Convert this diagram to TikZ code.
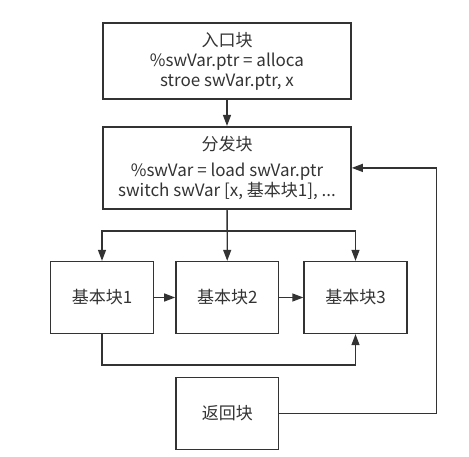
\documentclass[tikz,border=0pt]{standalone}
\usepackage{fontspec}
\setmainfont{Noto Sans CJK SC}
\usepackage{tikz}
\usetikzlibrary{positioning}
\usetikzlibrary{arrows.meta}
\definecolor{linegray}{HTML}{333333}
\definecolor{textgray}{HTML}{333333}

\begin{document}
\begin{tikzpicture}[x=1pt, y=1pt, >={Triangle[length=11pt,width=8pt]},
  block/.style = {draw=linegray, line width=1.6pt, text=textgray, align=center,
                  inner sep=0pt, font=\fontsize{17}{20}\selectfont},
  bigblock/.style = {block, minimum width=248pt},
  smallblock/.style = {block, minimum width=102.7pt, minimum height=71.7pt},
  link/.style = {draw=linegray, line width=1.3pt}]

% fix the page to the reference size
\useasboundingbox (0,0) rectangle (469,456);

% Blocks
\node[bigblock, minimum height=76pt] (entry) at (227,395)
  {入口块\\ \%swVar.ptr = alloca\\ stroe swVar.ptr, x};
\node[bigblock, minimum height=82.3pt] (dispatch) at (227,288.1)
  {分发块\\[6.7pt] \%swVar = load swVar.ptr\\ switch swVar [x, 基本块1], ...};
\node[smallblock] (blockA) at (102,158.5)   {基本块1};
\node[smallblock] (blockB) at (227.3,158.5) {基本块2};
\node[smallblock] (blockC) at (355.5,158.5) {基本块3};
\node[smallblock] (ret) at (227.3,42.5)     {返回块};

% split point and loop corner
\coordinate (split) at (227.3,225);
\coordinate (loop) at (436.7,42.5);

% Connectors
\draw[link,->] (entry) -- (dispatch);
\draw[link,->] (dispatch) -- (blockB);
\draw[link,->] (split) -| (blockA);
\draw[link,->] (split) -| (blockC);
\draw[link,->] (blockA) -- (blockB);
\draw[link,->] (blockB) -- (blockC);
\draw[link,->] (blockA.south) -- ++(0,-30.7) -| (blockC.south);
\draw[link,->] (ret.east) -- (loop) |- (dispatch.east);

\end{tikzpicture}
\end{document}
